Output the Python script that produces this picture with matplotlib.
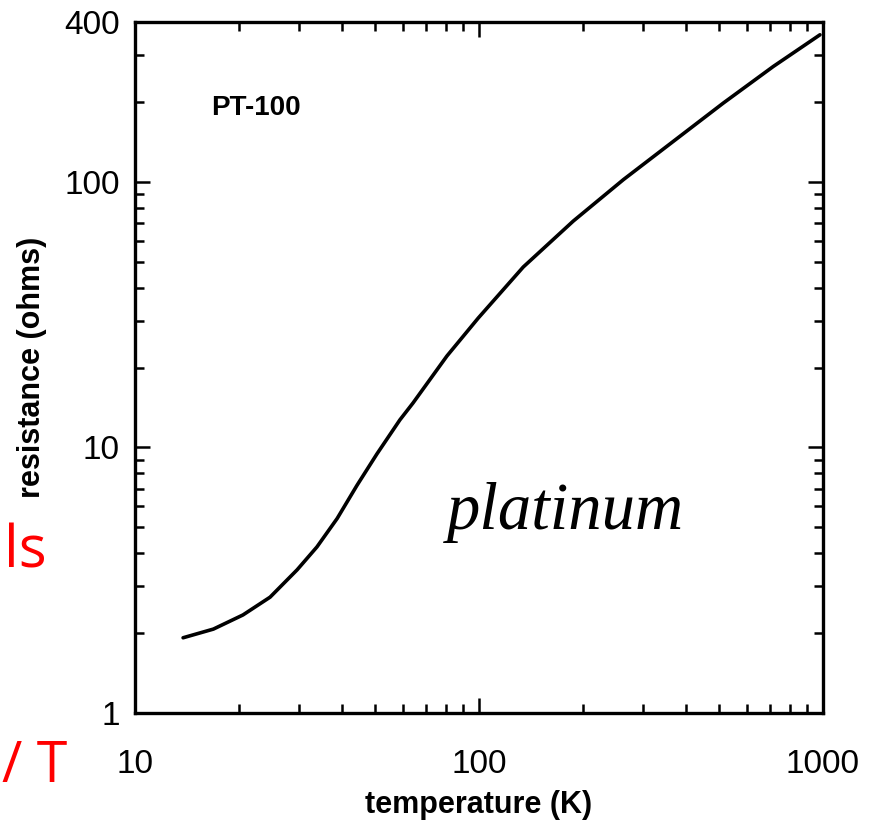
import matplotlib
matplotlib.use("Agg")
import matplotlib.pyplot as plt
from matplotlib.ticker import LogLocator, NullFormatter, FixedLocator, FixedFormatter

# PT-100 resistance curve
temperature = [13.8, 16.9, 20.6, 24.7, 29.6, 33.8, 38.7, 44.2, 50.5, 58.9, 64.3, 80.7,
               99.5, 134.5, 188, 263, 367, 513, 717, 980]
resistance = [1.92, 2.07, 2.34, 2.73, 3.46, 4.22, 5.4, 7.2, 9.45, 12.7, 14.7, 22.1,
              30.7, 47.8, 71.2, 102, 142, 198, 272, 358]

x_ticks = [10, 100, 1000]
x_labels = ["10", "100", "1000"]
y_ticks = [1, 10, 100, 400]
y_labels = ["1", "10", "100", "400"]

plt.rcParams['font.family'] = ['Liberation Sans', 'DejaVu Sans']

fig = plt.figure(figsize=(8.77, 8.24), dpi=100)
ax = fig.add_axes([0.1539, 0.1347, 0.7845, 0.8386])

ax.plot(temperature, resistance, color='black', linewidth=2.6,
        solid_capstyle='round', solid_joinstyle='round')

ax.set_xscale('log')
ax.set_yscale('log')
ax.set_xlim(10, 1000)
ax.set_ylim(1, 400)

ax.xaxis.set_major_locator(FixedLocator(x_ticks))
ax.xaxis.set_major_formatter(FixedFormatter(x_labels))
ax.xaxis.set_minor_locator(LogLocator(base=10, subs=range(2, 10)))
ax.xaxis.set_minor_formatter(NullFormatter())
ax.yaxis.set_major_locator(FixedLocator(y_ticks))
ax.yaxis.set_major_formatter(FixedFormatter(y_labels))
ax.yaxis.set_minor_locator(LogLocator(base=10, subs=range(2, 10)))
ax.yaxis.set_minor_formatter(NullFormatter())

ax.tick_params(which='both', direction='in', top=True, right=True, width=1.8, colors='black')
ax.tick_params(which='major', length=11, labelsize=24)
ax.tick_params(axis='x', which='major', pad=26)
ax.tick_params(axis='y', which='major', pad=11)
ax.tick_params(which='minor', length=6.5)
for s in ax.spines.values():
    s.set_linewidth(2.4)

ax.set_xlabel("temperature (K)", fontsize=22, fontweight='bold', labelpad=7)
ax.set_ylabel("resistance (ohms)", fontsize=22, fontweight='bold', labelpad=12)

ax.text(0.11, 0.875, "PT-100", transform=ax.transAxes, fontsize=20, fontweight='bold', va='center')
ax.text(0.625, 0.29, "platinum", transform=ax.transAxes, fontsize=48, fontstyle='italic',
        family=['Liberation Serif', 'DejaVu Serif'], ha='center', va='center')

# red fragments of slide text at the left edge
fig.text(4 / 877, 1 - 567 / 824, "ls", color='red', fontsize=42, family=['Open Sans', 'DejaVu Sans'],
         ha='left', va='baseline')
fig.text(2 / 877, 1 - 782 / 824, "/ T", color='red', fontsize=40, family=['Open Sans', 'DejaVu Sans'],
         ha='left', va='baseline')

fig.savefig("out.png", dpi=100)
